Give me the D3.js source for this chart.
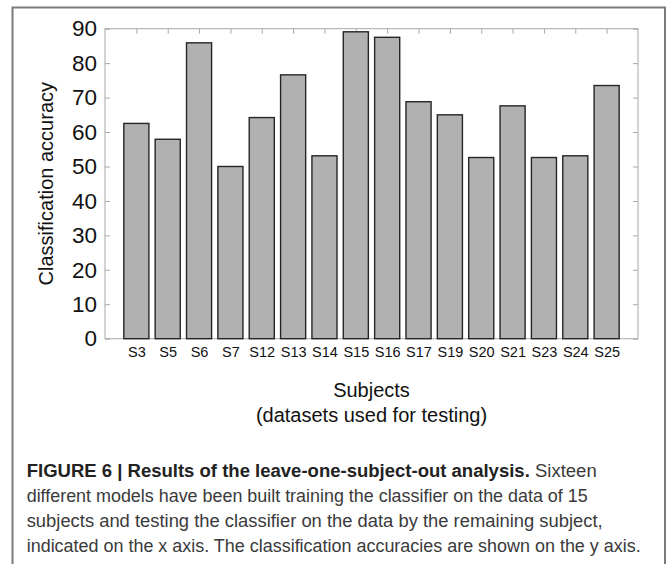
<!DOCTYPE html>
<html><head><meta charset="utf-8">
<script src="https://cdn.jsdelivr.net/npm/d3@7"></script>
<style>html,body{margin:0;padding:0;background:#fff;}svg{display:block;}</style>
</head><body>
<svg id="chart" width="667" height="564"></svg>
<script>
const categories = ["S3","S5","S6","S7","S12","S13","S14","S15","S16","S17","S19","S20","S21","S23","S24","S25"];
const accuracy = [62.5, 57.9, 85.9, 50.0, 64.2, 76.6, 53.1, 89.1, 87.5, 68.8, 65.0, 52.6, 67.6, 52.6, 53.1, 73.5];
const yTicks = [0,10,20,30,40,50,60,70,80,90];
const captionBold = "FIGURE 6 | Results of the leave-one-subject-out analysis.";
const captionLines = [
  " Sixteen",
  "different models have been built training the classifier on the data of 15",
  "subjects and testing the classifier on the data by the remaining subject,",
  "indicated on the x axis. The classification accuracies are shown on the y axis."
];
const captionWidths = [570, 561, 576, 614];

const svg = d3.select("#chart");
const font = "Arial, 'Liberation Sans', Helvetica, sans-serif";

// outer frame
svg.append("path").attr("d","M12.5,570 L12.5,7.5 L665,7.5 L665,570")
  .attr("fill","none").attr("stroke","#7a7a7a").attr("stroke-width",2);

const L = 105, R = 638, T = 28.7, B = 338.7;
const x = d3.scaleLinear().domain([0, categories.length + 1]).range([L, R]);
const y = d3.scaleLinear().domain([0, 90]).range([B, T]);
const bw = (x(1) - x(0)) * 0.8;

// plot box
svg.append("rect").attr("x",L).attr("y",T).attr("width",R-L).attr("height",B-T)
  .attr("fill","none").attr("stroke","#a8a8a8").attr("stroke-width",1);

// y ticks left (inward) and right (inward)
const gyl = svg.append("g").attr("transform",`translate(${L},0)`)
  .call(d3.axisRight(y).tickValues(yTicks).tickSize(5).tickFormat(""));
gyl.select(".domain").remove();
gyl.selectAll("line").attr("stroke","#a8a8a8");
const gyr = svg.append("g").attr("transform",`translate(${R},0)`)
  .call(d3.axisLeft(y).tickValues(yTicks).tickSize(5).tickFormat(""));
gyr.select(".domain").remove();
gyr.selectAll("line").attr("stroke","#a8a8a8");

// y tick labels
const gyLab = svg.append("g").attr("transform",`translate(${L},0)`)
  .call(d3.axisLeft(y).tickValues(yTicks).tickSize(0).tickPadding(8));
gyLab.select(".domain").remove();
gyLab.selectAll("text").attr("font-family",font).attr("font-size","22.5px").attr("fill","#111");

// x ticks top (inward)
const idx = categories.map((d,i)=>i+1);
const gxt = svg.append("g").attr("transform",`translate(0,${T})`)
  .call(d3.axisBottom(x).tickValues(idx).tickSize(5).tickFormat(""));
gxt.select(".domain").remove();
gxt.selectAll("line").attr("stroke","#a8a8a8");

// bars
svg.append("g").selectAll("rect").data(accuracy).join("rect")
  .attr("x",(d,i)=>x(i+1)-bw/2).attr("width",bw)
  .attr("y",d=>y(d)).attr("height",d=>y(0)-y(d))
  .attr("fill","#b1b1b1").attr("stroke","#262626").attr("stroke-width",1.4);

// x tick labels
const gxb = svg.append("g").attr("transform",`translate(0,${B})`)
  .call(d3.axisBottom(x).tickValues(idx).tickSize(0).tickPadding(8)
    .tickFormat((d)=>categories[d-1]));
gxb.select(".domain").remove();
gxb.selectAll("text").attr("font-family",font).attr("font-size","14.5px").attr("fill","#111");

// axis titles
svg.append("text").attr("x",(L+R)/2).attr("y",397).attr("text-anchor","middle")
  .attr("font-family",font).attr("font-size","20px").attr("fill","#111").text("Subjects");
svg.append("text").attr("x",(L+R)/2).attr("y",421.5).attr("text-anchor","middle")
  .attr("font-family",font).attr("font-size","20px").attr("fill","#111").text("(datasets used for testing)");
svg.append("text").attr("transform",`translate(53,${(T+B)/2}) rotate(-90)`).attr("text-anchor","middle")
  .attr("font-family",font).attr("font-size","20px").attr("fill","#111").text("Classification accuracy");

// caption
const capY = [477, 502, 527, 552];
captionLines.forEach((line,i)=>{
  const t = svg.append("text").attr("x",26.7).attr("y",capY[i])
    .attr("font-family",font).attr("font-size","17.5px").attr("fill","#3a3a3a")
    .attr("textLength",captionWidths[i]).attr("lengthAdjust","spacingAndGlyphs");
  if(i===0){
    t.append("tspan").attr("font-weight","bold").attr("fill","#222").text(captionBold);
    t.append("tspan").text(line);
  } else t.text(line);
});
</script>
</body></html>
